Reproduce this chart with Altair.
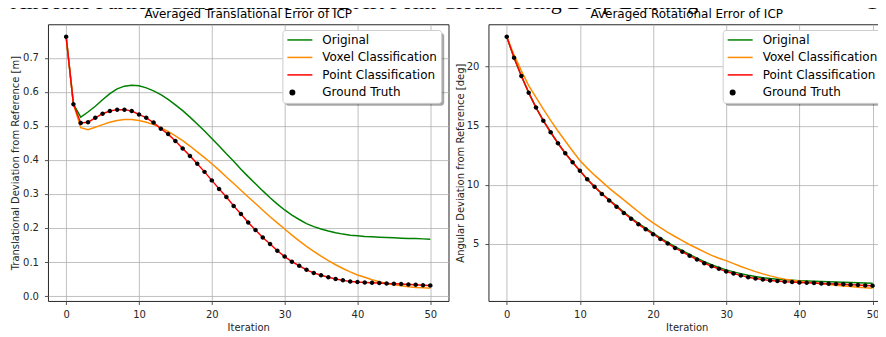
import altair as alt
import pandas as pd

iterations = list(range(51))
series_names = ["Original", "Voxel Classification", "Point Classification", "Ground Truth"]
series_colors = ["#008000", "#ff8c00", "#ff0000", "#000000"]
x_ticks = [0, 10, 20, 30, 40, 50]

header_text = "Airborne Particle Classification in LIDAR Point Clouds Using Deep Learning"
page_number = "1"

# --- Averaged translational error [m] ---
trans_original = [0.762, 0.564, 0.526, 0.541, 0.558, 0.577, 0.595, 0.609, 0.617, 0.620,
                  0.618, 0.612, 0.603, 0.592, 0.578, 0.562, 0.545, 0.526, 0.506, 0.485,
                  0.463, 0.441, 0.418, 0.396, 0.373, 0.351, 0.330, 0.309, 0.289, 0.270,
                  0.253, 0.238, 0.225, 0.213, 0.204, 0.197, 0.191, 0.186, 0.182, 0.179,
                  0.177, 0.175, 0.174, 0.173, 0.172, 0.171, 0.170, 0.169, 0.169, 0.168, 0.167]
trans_voxel = [0.762, 0.564, 0.495, 0.489, 0.496, 0.504, 0.511, 0.516, 0.519, 0.519,
               0.516, 0.511, 0.504, 0.495, 0.484, 0.471, 0.457, 0.441, 0.424, 0.407,
               0.389, 0.370, 0.350, 0.331, 0.311, 0.291, 0.272, 0.252, 0.233, 0.215,
               0.197, 0.179, 0.162, 0.146, 0.131, 0.117, 0.104, 0.092, 0.081, 0.071,
               0.062, 0.055, 0.048, 0.042, 0.037, 0.033, 0.030, 0.027, 0.025, 0.024, 0.023]
trans_point = [0.762, 0.564, 0.509, 0.511, 0.524, 0.536, 0.544, 0.548, 0.548, 0.544,
               0.534, 0.524, 0.510, 0.492, 0.476, 0.456, 0.434, 0.412, 0.389, 0.365,
               0.340, 0.315, 0.291, 0.265, 0.241, 0.216, 0.194, 0.172, 0.153, 0.133,
               0.116, 0.101, 0.089, 0.077, 0.068, 0.061, 0.055, 0.050, 0.046, 0.043,
               0.041, 0.040, 0.039, 0.038, 0.037, 0.036, 0.035, 0.034, 0.033, 0.032, 0.031]
trans_truth = [0.762, 0.564, 0.509, 0.511, 0.524, 0.536, 0.544, 0.548, 0.548, 0.544,
               0.534, 0.524, 0.510, 0.492, 0.476, 0.456, 0.434, 0.412, 0.389, 0.365,
               0.340, 0.315, 0.291, 0.265, 0.241, 0.216, 0.194, 0.172, 0.153, 0.133,
               0.116, 0.101, 0.089, 0.077, 0.068, 0.061, 0.055, 0.050, 0.046, 0.043,
               0.041, 0.040, 0.039, 0.038, 0.037, 0.036, 0.035, 0.034, 0.033, 0.032, 0.031]

# --- Averaged rotational error [deg] ---
rot_original = [22.54, 20.76, 19.21, 17.80, 16.53, 15.42, 14.44, 13.51, 12.66, 11.90,
                11.17, 10.46, 9.83, 9.25, 8.72, 8.20, 7.67, 7.19, 6.72, 6.30,
                5.89, 5.49, 5.10, 4.74, 4.40, 4.07, 3.76, 3.46, 3.20, 2.98,
                2.77, 2.60, 2.45, 2.31, 2.20, 2.11, 2.03, 1.97, 1.92, 1.88,
                1.85, 1.82, 1.80, 1.78, 1.76, 1.74, 1.72, 1.70, 1.68, 1.66, 1.64]
rot_voxel = [22.54, 21.00, 19.65, 18.40, 17.40, 16.40, 15.45, 14.55, 13.70, 12.85,
             12.05, 11.40, 10.80, 10.25, 9.70, 9.20, 8.70, 8.20, 7.70, 7.20,
             6.75, 6.35, 5.95, 5.60, 5.25, 4.90, 4.60, 4.30, 4.00, 3.75,
             3.55, 3.30, 3.05, 2.83, 2.62, 2.43, 2.26, 2.11, 1.98, 1.88,
             1.80, 1.73, 1.66, 1.59, 1.52, 1.46, 1.40, 1.35, 1.30, 1.26, 1.20]
rot_point = [22.54, 20.76, 19.21, 17.80, 16.53, 15.42, 14.44, 13.51, 12.66, 11.90,
             11.17, 10.46, 9.82, 9.20, 8.66, 8.13, 7.59, 7.11, 6.63, 6.21,
             5.79, 5.39, 5.00, 4.63, 4.30, 3.96, 3.65, 3.34, 3.08, 2.86,
             2.63, 2.46, 2.30, 2.15, 2.04, 1.96, 1.87, 1.82, 1.76, 1.73,
             1.70, 1.68, 1.65, 1.62, 1.60, 1.57, 1.54, 1.51, 1.48, 1.45, 1.42]
rot_truth = [22.54, 20.76, 19.21, 17.80, 16.53, 15.42, 14.44, 13.51, 12.66, 11.90,
             11.17, 10.46, 9.82, 9.20, 8.66, 8.13, 7.59, 7.11, 6.63, 6.21,
             5.79, 5.39, 5.00, 4.63, 4.30, 3.96, 3.65, 3.34, 3.08, 2.86,
             2.63, 2.46, 2.30, 2.15, 2.04, 1.96, 1.87, 1.82, 1.76, 1.73,
             1.70, 1.68, 1.65, 1.62, 1.60, 1.57, 1.54, 1.51, 1.48, 1.45, 1.42]

LINE_SYMBOL = "M-1,0H4"
DOT_SYMBOL = "M-0.45,0A0.45,0.45,0,1,1,0.45,0A0.45,0.45,0,1,1,-0.45,0Z"
FONT = "DejaVu Sans"
INK = "#262626"
LEGEND_W = 159
LEGEND_H = 73


def long_table(orig, voxel, point, truth):
    rows = []
    for name, vals in zip(series_names, [orig, voxel, point, truth]):
        for it, v in zip(iterations, vals):
            rows.append({"iteration": it, "value": v, "series": name})
    return pd.DataFrame(rows)


def panel(df, title, ytitle, ydomain, yticks, yformat, xdomain, width,
          ytitle_x, legend_x, note, note_x):
    x = alt.X("iteration:Q",
              scale=alt.Scale(domain=xdomain, nice=False, zero=False),
              axis=alt.Axis(values=x_ticks, format="d", title="Iteration",
                            labelPadding=5, titleY=29.5, titleBaseline="alphabetic"))
    y = alt.Y("value:Q",
              scale=alt.Scale(domain=ydomain, nice=False, zero=False),
              axis=alt.Axis(values=yticks, format=yformat, title=ytitle,
                            labelPadding=6, titleX=ytitle_x, titleBaseline="alphabetic"))
    color = alt.Color("series:N", scale=alt.Scale(domain=series_names, range=series_colors),
                      legend=None)
    layers = []
    for name in series_names[:3]:
        layers.append(
            alt.Chart(df).transform_filter(alt.datum.series == name)
            .mark_line(strokeWidth=1.5, clip=True)
            .encode(x=x, y=y, color=color)
        )
    leg = alt.Legend(title=None, orient="none", legendX=legend_x, legendY=5.7,
                     labelFont=FONT, labelFontSize=12, labelColor="black",
                     padding=4, rowPadding=5.5, labelOffset=24,
                     symbolSize=100, symbolStrokeWidth=1.5, symbolOpacity=1,
                     fillColor="#ffffff", strokeColor="#cccccc", cornerRadius=3)
    pts = (
        alt.Chart(df).transform_filter(alt.datum.series == "Ground Truth")
        .mark_point(filled=True, opacity=1, strokeWidth=0, size=100, clip=True)
        .encode(
            x=x, y=y,
            fill=alt.Fill("series:N", scale=alt.Scale(domain=series_names, range=series_colors), legend=leg),
            stroke=alt.Stroke("series:N", scale=alt.Scale(domain=series_names, range=series_colors), legend=leg),
            shape=alt.Shape("series:N", scale=alt.Scale(domain=series_names,
                                                         range=[LINE_SYMBOL] * 3 + [DOT_SYMBOL]), legend=leg),
        )
    )
    layers.append(pts)
    # drop shadow underneath the legend box
    shadow = (
        alt.Chart(pd.DataFrame({"k": [0]}))
        .mark_rect(color="#000000", opacity=0.35, cornerRadius=3)
        .encode(x=alt.value(legend_x + 3), x2=alt.value(legend_x + LEGEND_W + 3),
                y=alt.value(5.7 + 3), y2=alt.value(5.7 + LEGEND_H + 3))
    )
    layers.append(shadow)
    head = (
        alt.Chart(pd.DataFrame({"t": [note]}))
        .mark_text(align="left", baseline="alphabetic", font="Liberation Serif",
                   fontSize=22, color="black")
        .encode(text="t:N", x=alt.value(note_x), y=alt.value(-15.5))
    )
    layers.append(head)
    ttl = (
        alt.Chart(pd.DataFrame({"t": [title]}))
        .mark_text(align="center", baseline="alphabetic", font=FONT,
                   fontSize=12, color="black")
        .encode(text="t:N", x=alt.value(width / 2), y=alt.value(-6.3))
    )
    layers.append(ttl)
    return alt.layer(*layers).properties(width=width, height=277)


df_trans = long_table(trans_original, trans_voxel, trans_point, trans_truth)
df_rot = long_table(rot_original, rot_voxel, rot_point, rot_truth)

left = panel(df_trans, "Averaged Translational Error of ICP",
             "Translational Deviation from Reference [m]",
             [-0.0145, 0.799], [0.0, 0.1, 0.2, 0.3, 0.4, 0.5, 0.6, 0.7, 0.8], ".1f",
             [-2.5, 52.5], 401, -29, 234.7, header_text, -37.3)
right = panel(df_rot, "Averaged Rotational Error of ICP",
              "Angular Deviation from Reference [deg]",
              [0.133, 23.6], [5, 10, 15, 20], "d",
              [-2.5, 51.7], 397, -24.8, 234.5, page_number, 378.5)

chart = (
    alt.hconcat(left, right, spacing=40, bounds="flush")
    .resolve_scale(x="independent", y="independent", fill="independent",
                   stroke="independent", shape="independent")
    .resolve_legend(fill="independent", stroke="independent", shape="independent")
    .properties(padding={"left": 2, "top": -17.9, "right": -8, "bottom": 0},
                background="white")
    .configure_view(stroke=INK, strokeWidth=1)
    .configure_axis(grid=True, gridColor="#b0b0b0", gridWidth=0.8, domain=False,
                    tickColor=INK, tickSize=3.5, tickWidth=0.8,
                    labelFont=FONT, labelFontSize=10, labelColor=INK,
                    titleFont=FONT, titleFontSize=10, titleFontWeight="normal", titleColor=INK)
)

chart.save("out.html", embed_options={"renderer": "svg", "actions": False})
